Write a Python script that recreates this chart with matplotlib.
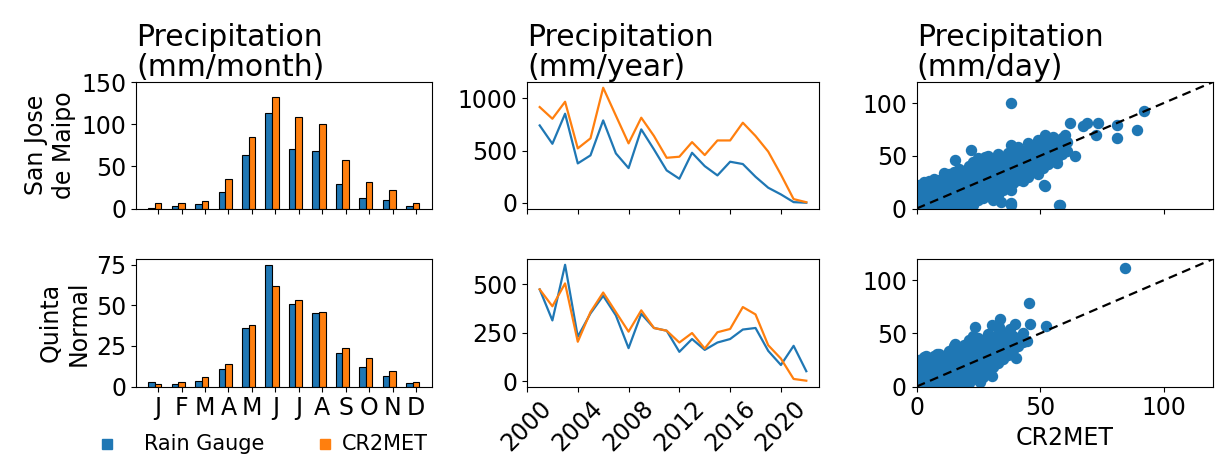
import matplotlib
matplotlib.use("Agg")
import matplotlib.pyplot as plt
from matplotlib.lines import Line2D
import numpy as np

# ---------------- data ----------------
months = ["J", "F", "M", "A", "M", "J", "J", "A", "S", "O", "N", "D"]

sjm_gauge_month = [1, 2.5, 5, 19, 63, 113, 71, 68, 29, 13, 9.5, 3]
sjm_cr2met_month = [7, 6, 9, 35, 85, 132, 108, 100, 57, 31, 22, 7]

qn_gauge_month = [2.5, 1.7, 3.5, 10.7, 36, 75, 51, 45, 20.7, 11.8, 6.4, 2]
qn_cr2met_month = [1.7, 2.5, 5.8, 14, 38, 61.6, 53, 46, 23.8, 17.6, 9.3, 2.5]

years = list(range(2001, 2023))
sjm_gauge_year = [741, 565, 853, 377, 454, 789, 473, 332, 703, 511, 310, 230,
                  479, 351, 262, 393, 371, 249, 144, 80, 6, 0]
sjm_cr2met_year = [917, 805, 968, 521, 617, 1102, 835, 569, 815, 640, 431, 441,
                   581, 457, 597, 597, 767, 640, 490, 270, 35, 5]

qn_gauge_year = [474, 314, 601, 230, 350, 441, 340, 171, 348, 275, 261, 152,
                 218, 162, 200, 218, 267, 275, 157, 84, 183, 52]
qn_cr2met_year = [474, 387, 505, 204, 357, 458, 357, 256, 366, 275, 261, 200,
                  249, 169, 253, 270, 383, 345, 186, 117, 12, 3]

# daily scatter: x = CR2MET, y = rain gauge
sjm_daily_cr2met = [
    1, 1, 1, 1, 1,
    3, 3, 3, 3, 3,
    5, 5, 5, 5, 5,
    7, 7, 7, 7, 7,
    9, 9, 9, 9, 9,
    11, 11, 11, 11, 11, 11, 11,
    13, 13, 13, 13, 13,
    15, 15, 15, 15, 15, 15,
    17, 17, 17, 17, 17, 17,
    19, 19, 19, 19, 19, 19,
    21, 21, 21, 21, 21, 21,
    23, 23, 23, 23, 23, 23, 23,
    25, 25, 25, 25, 25, 25, 25,
    27, 27, 27, 27, 27, 27,
    29, 29, 29, 29, 29, 29,
    31, 31, 31, 31, 31, 31,
    33, 33, 33, 33, 33, 33,
    35, 35, 35, 35, 35,
    37, 37, 37, 37, 37,
    38, 39, 39, 39, 39, 39,
    41, 41, 41, 41, 41,
    43, 43, 43, 43, 43,
    45, 45, 45, 45, 45,
    47, 47, 47, 47,
    49, 49, 49, 49, 49,
    51, 51, 51, 51,
    52, 53, 53, 53, 53,
    55, 55, 55, 55,
    57, 57, 57,
    59, 59, 59,
    60, 61, 61,
    38.2, 91.9, 89.2, 81, 81, 73.6, 72.7, 69, 67.3, 61.9, 64.2, 58.1,
    56.8, 51.6, 38.2, 38.2, 21.9, 15.5, 27.7, 52, 34, 38, 57.5,
]
sjm_daily_gauge = [
    1, 6, 12, 18, 22,
    2, 8, 14, 20, 25,
    1, 7, 13, 19, 26,
    3, 10, 16, 22, 28,
    2, 9, 15, 21, 27,
    1, 6, 12, 18, 24, 30, 34,
    3, 10, 17, 25, 33,
    2, 8, 14, 20, 27, 35,
    4, 11, 18, 24, 31, 37,
    1, 7, 14, 21, 28, 36,
    5, 12, 19, 26, 33, 40,
    3, 10, 16, 23, 30, 38, 44,
    8, 14, 20, 27, 35, 42, 48,
    10, 17, 24, 31, 39, 47,
    12, 19, 26, 34, 42, 50,
    8, 15, 22, 29, 37, 45,
    13, 20, 28, 36, 44, 52,
    18, 25, 33, 41, 49,
    21, 28, 36, 44, 53,
    18, 24, 31, 39, 47, 56,
    27, 34, 42, 50, 58,
    26, 33, 40, 48, 55,
    30, 38, 46, 54, 62,
    35, 43, 51, 59,
    33, 41, 49, 57, 65,
    38, 46, 54, 62,
    70, 42, 50, 58, 66,
    45, 53, 61, 68,
    48, 56, 64,
    52, 60, 67,
    70, 55, 63,
    99.7, 92.8, 74.4, 79, 66.5, 81.3, 69.6, 80.7, 78, 80.7, 49.7, 3.2,
    42.7, 22.2, 3.2, 60.1, 55.4, 45.9, 48.4, 21, 6, 5, 3,
]

qn_daily_cr2met = [
    1, 1, 1, 1, 1,
    3, 3, 3, 3, 3,
    5, 5, 5, 5, 5,
    7, 7, 7, 7, 7,
    9, 9, 9, 9, 9, 9,
    11, 11, 11, 11, 11,
    13, 13, 13, 13, 13, 13,
    15, 15, 15, 15, 15, 15,
    17, 17, 17, 17, 17, 17,
    19, 19, 19, 19, 19, 19,
    21, 21, 21, 21, 21, 21, 21,
    23, 23, 23, 23, 23, 23, 23,
    25, 25, 25, 25, 25, 25,
    27, 27, 27, 27, 27, 27,
    29, 29, 29, 29, 29, 29,
    31, 31, 31, 31, 31,
    33, 33, 33, 33, 33,
    35, 35, 35, 35,
    37, 37, 37, 37,
    39, 39, 39,
    41, 41,
    43, 43,
    84.5, 45.3, 45.7, 52.4, 44.6, 40.1, 33.5, 33.8, 30.4, 39.9, 37.8,
    23.6, 15.5, 30.4, 25.7, 3.8, 8.4,
]
qn_daily_gauge = [
    1, 7, 13, 19, 25,
    3, 9, 15, 21, 28,
    1, 6, 12, 18, 24,
    4, 10, 16, 22, 29,
    2, 8, 14, 20, 26, 31,
    5, 11, 17, 23, 29,
    2, 8, 14, 20, 27, 33,
    4, 10, 17, 24, 31, 38,
    1, 7, 13, 20, 27, 34,
    5, 11, 18, 25, 32, 39,
    3, 9, 16, 23, 30, 37, 44,
    7, 14, 21, 28, 35, 42, 48,
    11, 18, 25, 32, 39, 46,
    9, 16, 23, 30, 37, 44,
    13, 20, 27, 34, 41, 49,
    18, 25, 32, 39, 45,
    22, 29, 36, 43, 50,
    26, 33, 40, 47,
    30, 37, 44, 51,
    34, 41, 48,
    38, 45,
    42, 50,
    111.7, 78.5, 58.9, 57, 43, 27.2, 55.7, 63.3, 57.9, 58.9, 53.8,
    56.3, 39.9, 9.5, 4.1, 28.5, 31,
]

row_labels = ["San Jose\nde Maipo", "Quinta\nNormal"]
titles = ["Precipitation\n(mm/month)", "Precipitation\n(mm/year)", "Precipitation\n(mm/day)"]
series_names = ["Rain Gauge", "CR2MET"]

# ---------------- styling ----------------
BLUE = "#1f77b4"
ORANGE = "#ff7f0e"
TICK_FS = 17
TITLE_FS = 21.5
LABEL_FS = 17
LEG_FS = 15

plt.rcParams["font.family"] = ["DejaVu Sans"]
plt.rcParams["xtick.labelsize"] = TICK_FS
plt.rcParams["ytick.labelsize"] = TICK_FS

W, H = 1220, 467
fig = plt.figure(figsize=(W / 100, H / 100), dpi=100)


def px_axes(x0, y0, x1, y1):
    return fig.add_axes([x0 / W, 1 - y1 / H, (x1 - x0) / W, (y1 - y0) / H])


cols = [(136, 432), (527, 819), (916.7, 1213)]
rows = [(82, 208.5), (259, 386.5)]

axes = [[px_axes(c[0], r[0], c[1], r[1]) for c in cols] for r in rows]

month_pos = np.arange(1, 13)
bw = 0.28
bar_data = [(sjm_gauge_month, sjm_cr2met_month), (qn_gauge_month, qn_cr2met_month)]
year_data = [(sjm_gauge_year, sjm_cr2met_year), (qn_gauge_year, qn_cr2met_year)]
scat_data = [(sjm_daily_cr2met, sjm_daily_gauge), (qn_daily_cr2met, qn_daily_gauge)]

for r in range(2):
    # bars
    ax = axes[r][0]
    g, c = bar_data[r]
    ax.bar(month_pos - bw, g, width=bw, color=BLUE, edgecolor="black", linewidth=0.8)
    ax.bar(month_pos, c, width=bw, color=ORANGE, edgecolor="black", linewidth=0.8)
    ax.set_xlim(0.06, 12.68)
    ax.set_xticks(month_pos)
    ax.set_ylabel(row_labels[r], fontsize=LABEL_FS)
    if r == 0:
        ax.set_ylim(0, 150)
        ax.set_yticks([0, 50, 100, 150])
        ax.set_xticklabels([])
    else:
        ax.set_ylim(0, 78.5)
        ax.set_yticks([0, 25, 50, 75])
        ax.set_xticklabels(months)

    # lines
    ax = axes[r][1]
    g, c = year_data[r]
    ax.plot(years, g, color=BLUE, lw=1.6)
    ax.plot(years, c, color=ORANGE, lw=1.6)
    ax.set_xlim(2000, 2023)
    ax.set_xticks([2000, 2004, 2008, 2012, 2016, 2020])
    if r == 0:
        ax.set_yticks([0, 500, 1000])
        ax.set_xticklabels([])
    else:
        ax.set_yticks([0, 250, 500])
        ax.tick_params(axis="x", labelrotation=45)

    # scatter
    ax = axes[r][2]
    xs, ys = scat_data[r]
    ax.scatter(xs, ys, s=52, color=BLUE, zorder=2)
    ax.plot([0, 120], [0, 120], color="black", linestyle=(0, (4, 2.5)), lw=1.6, zorder=3)
    ax.set_xlim(0, 120)
    ax.set_ylim(0, 120)
    ax.set_xticks([0, 50, 100])
    ax.set_yticks([0, 50, 100])
    if r == 0:
        ax.set_xticklabels([])
    else:
        ax.set_xlabel("CR2MET", fontsize=LABEL_FS, labelpad=4)

for j in range(3):
    axes[0][j].set_title(titles[j], loc="left", fontsize=TITLE_FS, pad=3, linespacing=1.05)

# legend (manual, below bar chart)
for (mx, tx, col, name) in [(107, 144, BLUE, series_names[0]), (325, 342, ORANGE, series_names[1])]:
    fig.add_artist(Line2D([mx / W], [1 - 444 / H], transform=fig.transFigure,
                          marker="s", markersize=7, color=col, linestyle="none"))
    fig.text(tx / W, 1 - 444 / H, name, fontsize=LEG_FS, ha="left", va="center")

fig.savefig("out.png", dpi=100)
